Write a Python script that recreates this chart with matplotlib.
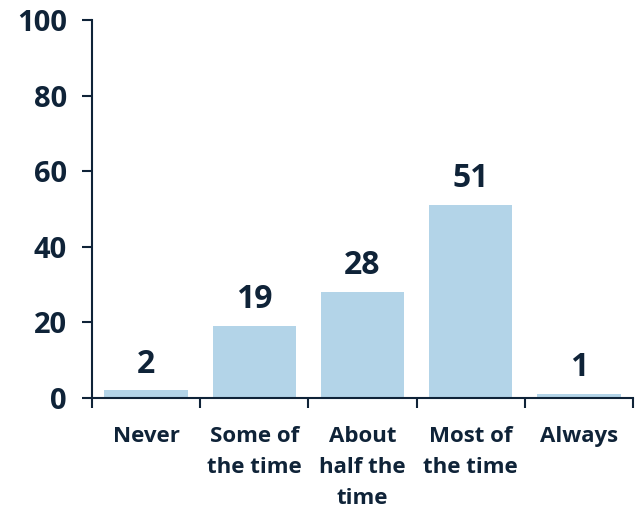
import matplotlib
matplotlib.use("Agg")
import matplotlib.pyplot as plt
from matplotlib.ticker import FixedLocator

categories = ["Never", "Some of\nthe time", "About\nhalf the\ntime", "Most of\nthe time", "Always"]
values = [2, 19, 28, 51, 1]
y_ticks = [0, 20, 40, 60, 80, 100]

navy = "#0f2338"
bar_color = "#b3d4e8"

plt.rcParams["font.family"] = ["Open Sans", "DejaVu Sans"]
plt.rcParams["font.weight"] = "bold"

fig = plt.figure(figsize=(6.39, 5.08), dpi=100)
ax = fig.add_axes([0.144, 0.2165, 0.8466, 0.7441])

x = list(range(len(categories)))
bars = ax.bar(x, values, width=0.77, color=bar_color, zorder=2)

for xi, v in zip(x, values):
    ax.annotate(str(v), (xi, v), xytext=(0, 19), textcoords="offset points",
                ha="center", va="center", fontsize=23, fontweight="bold", color=navy)

ax.set_xlim(-0.5, len(categories) - 0.5)
ax.set_ylim(0, 100)
ax.set_yticks(y_ticks)
ax.set_yticklabels([str(t) for t in y_ticks], fontsize=21, fontweight="bold", color=navy)
ax.set_xticks(x)
ax.set_xticklabels(categories, fontsize=16, fontweight="bold", color=navy, linespacing=1.63)
ax.xaxis.set_minor_locator(FixedLocator([i - 0.5 for i in range(len(categories) + 1)]))
ax.tick_params(axis="x", which="major", length=0, pad=20)
ax.tick_params(axis="x", which="minor", length=7, width=1.5, color=navy, direction="out")
ax.tick_params(axis="y", length=7, width=1.5, color=navy, direction="out", pad=11)

for side in ["top", "right"]:
    ax.spines[side].set_visible(False)
for side in ["left", "bottom"]:
    ax.spines[side].set_color(navy)
    ax.spines[side].set_linewidth(1.5)

fig.savefig("out.png", dpi=100)
